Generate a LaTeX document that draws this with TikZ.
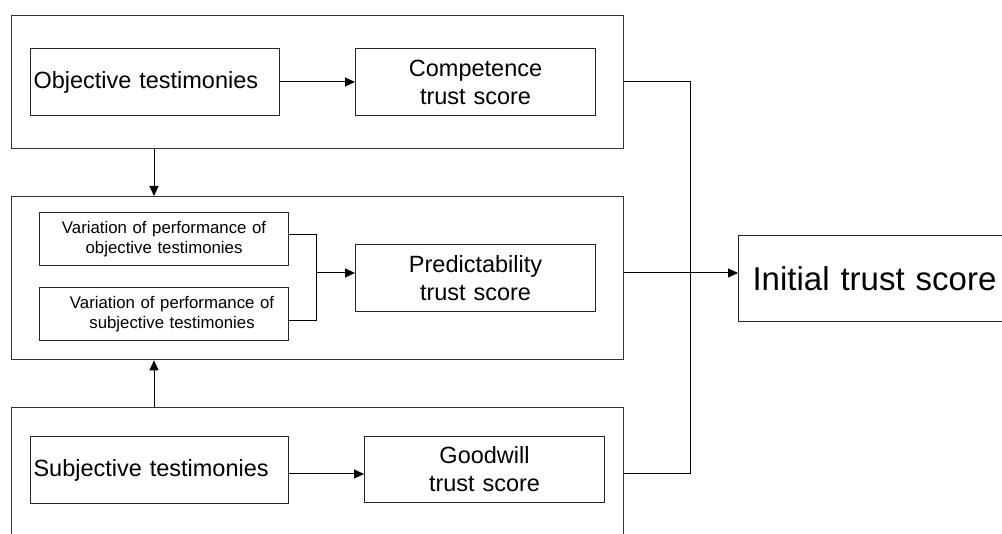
\documentclass[tikz,border=0pt]{standalone}
\usepackage{fontspec}
\setmainfont{Liberation Sans}
\usetikzlibrary{arrows.meta,positioning}
\tikzset{
  outerbox/.style={draw=black!80, line width=1.3pt, inner sep=0pt, anchor=north west},
  inbox/.style={draw=black!85, line width=1.1pt, inner sep=0pt, anchor=north west, align=center},
  bigtxt/.style={font=\fontsize{23.5}{28}\selectfont},
  smalltxt/.style={font=\fontsize{16.8}{19.5}\selectfont},
  conn/.style={draw=black, line width=1pt},
  arr/.style={conn, -{Triangle[length=10pt,width=9pt]}}
}
\begin{document}
\begin{tikzpicture}[x=1pt,y=-1pt]
\useasboundingbox (0,0) rectangle (1002,534);
\clip (0,0) rectangle (1002,534);
% outer boxes
\node[outerbox, minimum width=612pt, minimum height=133pt] (b1) at (11,15) {};
\node[outerbox, minimum width=612pt, minimum height=163pt] (b2) at (11,196) {};
\node[outerbox, minimum width=612pt, minimum height=170pt] (b3) at (11,407) {};
% inner boxes, top
\node[inbox, bigtxt, text width=243pt, inner xsep=3pt, minimum height=67pt, align=left] (obj) at (30,48) {Objective testimonies};
\node[inbox, bigtxt, text width=240pt, minimum height=67pt] (comp) at (355,48) {Competence\\trust score};
% middle
\node[inbox, smalltxt, text width=249pt, minimum height=53pt] (vo) at (39,212) {Variation of performance of\\objective testimonies};
\node[inbox, smalltxt, text width=249pt, minimum height=53pt] (vs) at (39,287) {\hspace*{16pt}Variation of performance of\\\hspace*{16pt}subjective testimonies};
\node[inbox, bigtxt, text width=240pt, minimum height=67pt] (pred) at (355,244) {Predictability\\trust score};
% bottom
\node[inbox, bigtxt, text width=252pt, inner xsep=3pt, minimum height=67pt, align=left] (subj) at (30,436) {Subjective testimonies};
\node[inbox, bigtxt, text width=240pt, minimum height=66pt] (good) at (364,436) {Goodwill\\trust score};
% initial
\node[inbox, font=\fontsize{33}{38}\selectfont, text width=300pt, inner xsep=14pt, minimum height=86pt, align=left] (init) at (738,235) {Initial trust score};
% coordinates
\coordinate (jn) at (316,273);
\coordinate (rj) at (690,82);
% connectors
\draw[arr] (obj.east |- 0,82) -- (comp.west |- 0,82);
\draw[arr] (b1.south -| 154,0) -- (b2.north -| 154,0);
\draw[arr] (b3.north -| 154,0) -- (b2.south -| 154,0);
\draw[conn] (vo.east |- 0,235) -| (jn);
\draw[conn] (vs.east |- 0,321) -| (jn);
\draw[arr] (jn) -- (pred.west |- jn);
\draw[arr] (subj.east |- 0,474) -- (good.west |- 0,474);
\draw[conn] (b1.east |- rj) -- (rj) |- (b3.east |- 0,474);
\draw[arr] (b2.east |- 0,273) -- (init.west |- 0,273);
\end{tikzpicture}
\end{document}
